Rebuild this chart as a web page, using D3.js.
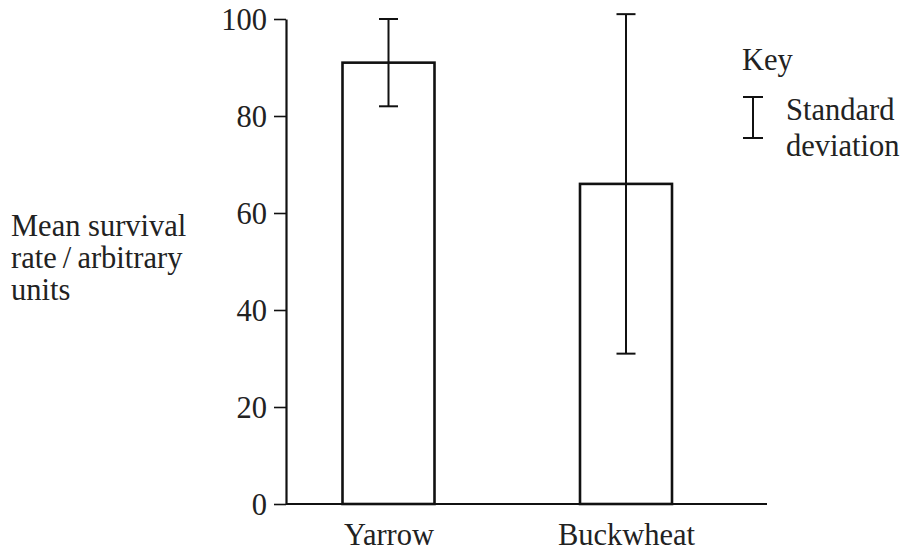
<!DOCTYPE html>
<html>
<head>
<meta charset="utf-8">
<script src="https://cdn.jsdelivr.net/npm/d3@7"></script>
<style>
  body { margin: 0; background: #fff; }
  svg text { font-family: "Liberation Serif", Tinos, "Times New Roman", Times, "DejaVu Serif", serif; fill: #222; }
</style>
</head>
<body>
<svg id="chart" width="907" height="552"></svg>
<script>
// data
var plants = ['Yarrow', 'Buckwheat'];
var meanRate = [91, 66];
var stdDev = [9, 35];
var yTicks = [0, 20, 40, 60, 80, 100];

var svg = d3.select('#chart');
var fontSize = 30.5;
var serif = '"Liberation Serif", Tinos, "Times New Roman", Times, "DejaVu Serif", serif';

var y = d3.scaleLinear().domain([0, 100]).range([504, 19]);
var x = d3.scalePoint().domain(plants).range([388.5, 626]);
var barW = 92;
var axisX = 286, axisEnd = 767;

var rows = plants.map(function (p, i) {
  return {name: p, mean: meanRate[i], sd: stdDev[i]};
});

// y axis
svg.append('g')
  .attr('transform', 'translate(' + axisX + ',0)')
  .call(d3.axisLeft(y).tickValues(yTicks).tickSize(12).tickSizeOuter(0).tickPadding(7))
  .call(function (g) {
    g.attr('font-family', serif);
    g.select('.domain').attr('stroke', '#111').attr('stroke-width', 2.2);
    g.selectAll('.tick line').attr('stroke', '#111').attr('stroke-width', 1.6);
    g.selectAll('.tick text').attr('font-size', fontSize).attr('fill', '#222').attr('dy', '0.34em');
  });

// bars
svg.append('g').selectAll('rect')
  .data(rows)
  .enter().append('rect')
  .attr('x', function (d) { return x(d.name) - barW / 2; })
  .attr('y', function (d) { return y(d.mean); })
  .attr('width', barW)
  .attr('height', function (d) { return y(0) - y(d.mean); })
  .attr('fill', 'none')
  .attr('stroke', '#111')
  .attr('stroke-width', 2.6);

// x axis line
svg.append('line')
  .attr('x1', axisX).attr('x2', axisEnd)
  .attr('y1', y(0)).attr('y2', y(0))
  .attr('stroke', '#111').attr('stroke-width', 2.2);

// error bars
var capW = 19;
var err = svg.append('g').selectAll('g')
  .data(rows)
  .enter().append('g')
  .attr('stroke', '#111').attr('stroke-width', 2);
err.append('line')
  .attr('x1', function (d) { return x(d.name); })
  .attr('x2', function (d) { return x(d.name); })
  .attr('y1', function (d) { return y(d.mean + d.sd); })
  .attr('y2', function (d) { return y(d.mean - d.sd); });
[1, -1].forEach(function (s) {
  err.append('line')
    .attr('x1', function (d) { return x(d.name) - capW / 2; })
    .attr('x2', function (d) { return x(d.name) + capW / 2; })
    .attr('y1', function (d) { return y(d.mean + s * d.sd); })
    .attr('y2', function (d) { return y(d.mean + s * d.sd); });
});

// x labels
svg.append('g')
  .attr('transform', 'translate(0,' + y(0) + ')')
  .call(d3.axisBottom(x).tickSize(0).tickPadding(19))
  .call(function (g) {
    g.attr('font-family', serif);
    g.select('.domain').remove();
    g.selectAll('.tick text').attr('font-size', fontSize).attr('fill', '#222');
  });

// y title
var title = ['Mean survival', 'rate\u2009/\u2009arbitrary', 'units'];
svg.append('g').attr('font-family', serif).selectAll('text')
  .data(title)
  .enter().append('text')
  .attr('x', 11)
  .attr('y', function (d, i) { return 236 + i * 32; })
  .attr('font-size', fontSize)
  .text(function (d) { return d; });

// key
var key = svg.append('g').attr('font-family', serif);
key.append('text').attr('x', 742).attr('y', 70).attr('font-size', fontSize).text('Key');
key.append('line').attr('x1', 753).attr('x2', 753).attr('y1', 97).attr('y2', 138)
  .attr('stroke', '#111').attr('stroke-width', 2);
[97, 138].forEach(function (yy) {
  key.append('line').attr('x1', 743).attr('x2', 763).attr('y1', yy).attr('y2', yy)
    .attr('stroke', '#111').attr('stroke-width', 2);
});
key.append('text').attr('x', 786).attr('y', 120).attr('font-size', fontSize).text('Standard');
key.append('text').attr('x', 786).attr('y', 156).attr('font-size', fontSize).text('deviation');
</script>
</body>
</html>
